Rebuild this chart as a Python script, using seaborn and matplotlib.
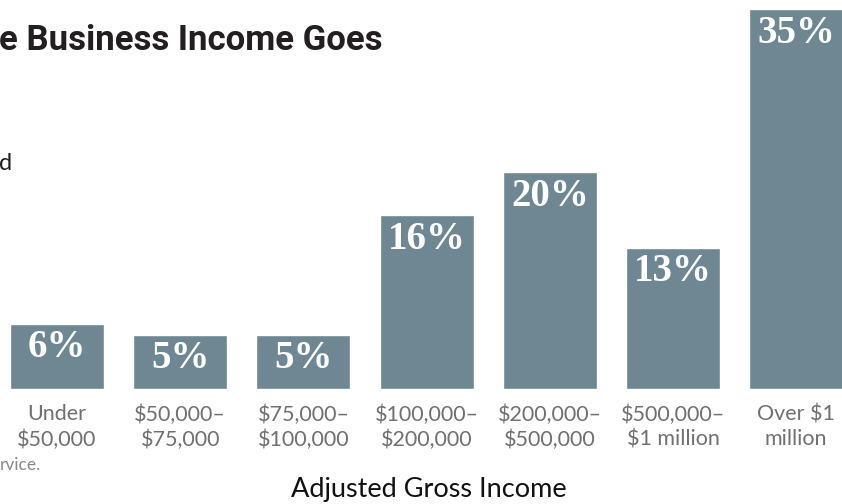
import matplotlib
matplotlib.use("Agg")
import matplotlib.pyplot as plt
import seaborn as sns
import pandas as pd

# share of business income by adjusted gross income bracket
brackets = ["Under\n$50,000", "$50,000–\n$75,000", "$75,000–\n$100,000",
            "$100,000–\n$200,000", "$200,000–\n$500,000", "$500,000–\n$1 million",
            "Over $1\nmillion"]
shares = [6, 5, 5, 16, 20, 13, 35]

title_text = "e Business Income Goes"
subtitle_tail = "d"
source_tail = "rvice."
xlabel_text = "Adjusted Gross Income"

sns.set_style("white")
plt.rcParams["font.family"] = ["Lato", "DejaVu Sans"]

W, H = 842, 504
fig = plt.figure(figsize=(W / 100, H / 100), dpi=100)
base = 389
ax = fig.add_axes([0, (H - base) / H, 1, base / H])

df = pd.DataFrame({"bracket": brackets, "share": shares})
sns.barplot(data=df, x="bracket", y="share", color="#6E8792", width=0.763,
            saturation=1, ax=ax)

pitch = 123.2
xmin = -57 / pitch
ax.set_xlim(xmin, xmin + W / pitch)
ax.set_ylim(0, base / 10.85)

# value labels sit inside the top of each bar
for i, v in enumerate(shares):
    ax.annotate(f"{v}%", (i, v), xytext=(0, -17.3), textcoords="offset points",
                ha="center", va="center", color="white", fontsize=28,
                fontweight="bold", family=["Liberation Serif", "DejaVu Serif"])

ax.set_yticks([])
ax.set_xticks(range(len(brackets)))
ax.set_xticklabels([b.replace("$", r"\$") for b in brackets], color="#707070",
                   fontsize=15.5, linespacing=1.32)
ax.tick_params(axis="x", length=0, pad=11)
ax.set_xlabel("")
ax.set_ylabel("")
sns.despine(ax=ax, left=True, bottom=True)

fig.text(-1 / W, 1 - 50 / H, title_text, ha="left", va="baseline", fontsize=25,
         fontweight="bold", color="#231F20",
         family=["Roboto", "DejaVu Sans"])
fig.text(-1 / W, 1 - 170 / H, subtitle_tail, ha="left", va="baseline",
         fontsize=17, color="#231F20")
fig.text(0, 1 - 470 / H, source_tail, ha="left", va="baseline", fontsize=12.5,
         color="#888888")
fig.text(429 / W, 1 - 497 / H, xlabel_text, ha="center", va="baseline",
         fontsize=19.5, color="#111111")

fig.savefig("out.png", dpi=100)
